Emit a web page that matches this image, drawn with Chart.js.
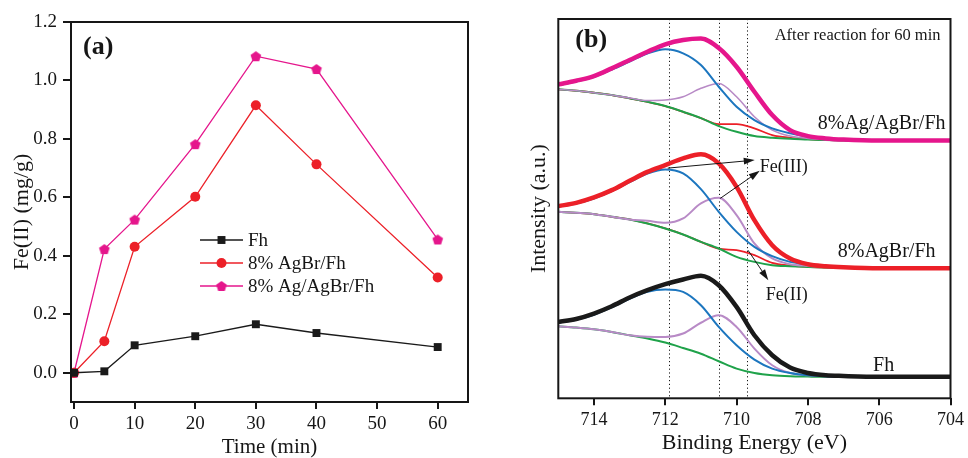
<!DOCTYPE html>
<html>
<head>
<meta charset="utf-8">
<script src="https://cdn.jsdelivr.net/npm/chart.js@4.4.1/dist/chart.umd.min.js"></script>
<style>
  html, body { margin: 0; padding: 0; background: #fff; }
  #wrap { position: relative; width: 968px; height: 458px; }
  .panel { position: absolute; top: 0; width: 484px; height: 458px; }
</style>
</head>
<body>
<div id="wrap">
  <div class="panel" style="left:0"><canvas id="chartA" width="484" height="458"></canvas></div>
  <div class="panel" style="left:484px"><canvas id="chartB" width="484" height="458"></canvas></div>
</div>
<script>
// ---- panel (a): Fe(II) vs time ----
const timeMin = [0, 5, 10, 20, 30, 40, 60];
const feFh = [0.000, 0.005, 0.094, 0.125, 0.166, 0.136, 0.088];
const feAgBr = [0.000, 0.108, 0.431, 0.602, 0.915, 0.713, 0.326];
const feAgAgBr = [0.000, 0.423, 0.524, 0.782, 1.083, 1.039, 0.456];
const timeTicks = [0, 10, 20, 30, 40, 50, 60];
const feTicks = [0.0, 0.2, 0.4, 0.6, 0.8, 1.0, 1.2];
const seriesA = ['Fh', '8% AgBr/Fh', '8% Ag/AgBr/Fh'];

// ---- panel (b): Fe 2p XPS, sampled along binding energy ----
const energy = [715, 714.5, 714, 713.5, 713, 712.5, 712, 711.5, 711, 710.5, 710, 709.5, 709, 708.5, 708, 707.5, 707, 706, 705, 704];
const energyTicks = [714, 712, 710, 708, 706, 704];
const markLines = [711.9, 710.5, 709.7];

// 8%Ag/AgBr/Fh
const agEnv = [313.7, 317.3, 322, 329.7, 338, 346.3, 353.7, 358, 359.5, 350, 331.3, 306.3, 283, 268, 262, 259.7, 258.5, 257.5, 257.5, 257.5];
const agFe3a = [313, 316.5, 321, 328.5, 336.5, 344.5, 348.7, 344.7, 333, 311.3, 291.3, 278, 269.7, 264.7, 261.3, 259.3, 258, 257.5, 257.5, 257.5];
const agFe3b = [308.7, 307.3, 305.3, 303, 300, 297.5, 298, 301.3, 309.7, 314.5, 301.3, 281.3, 268, 262, 259.7, 258.5, 257.7, 257.5, 257.5, 257.5];
const agFe2 = [308.7, 307.3, 305.3, 303, 299.7, 296.3, 292, 286.3, 280, 274, 274, 269.7, 263, 260.3, 259, 258.2, 257.7, 257.5, 257.5, 257.5];
const agBg = [308.7, 307.3, 305.3, 303, 299.7, 296.3, 292, 286.3, 280, 272, 266.3, 262, 260.3, 259.3, 258.7, 258, 257.7, 257.5, 257.5, 257.5];

// 8%AgBr/Fh
const brEnv = [192, 195.3, 200.7, 208, 217.3, 226.3, 233, 239.7, 243.8, 234.7, 211.3, 178, 153, 139.7, 134, 132, 131, 130, 130, 130];
const brFe3a = [191.5, 194.5, 199.7, 207, 216, 224.5, 228.7, 224.7, 209, 186.3, 166.3, 151.3, 142, 136.3, 133.7, 132, 131, 130, 130, 130];
const brFe3b = [186.3, 185.3, 184, 181.3, 178.7, 177.3, 175.3, 179.7, 194.7, 200.3, 183, 154.7, 139.7, 134, 132.3, 131.3, 130.7, 130, 130, 130];
const brFe2 = [186.3, 185.3, 184, 181.3, 178.7, 174.7, 169.7, 163.7, 156.3, 149.5, 148, 143, 135.3, 132.7, 131.3, 130.7, 130.3, 130, 130, 130];
const brBg = [186.3, 185.3, 184, 181.3, 178.7, 174.7, 169.7, 163.7, 156.3, 149.7, 141.3, 136.3, 133, 132, 131.3, 130.7, 130.3, 130, 130, 130];

// Fh
const fhEnv = [76.3, 79.3, 84.7, 92, 100.7, 108, 114, 118.7, 122.5, 113, 91.3, 63, 43, 30.7, 25.3, 23, 22.3, 21.5, 21.5, 21.5];
const fhFe3a = [75.5, 78.5, 83.5, 91, 99.5, 106.5, 108.7, 106.3, 93, 71.3, 53, 38.7, 29.7, 25.3, 23, 22, 21.7, 21.5, 21.5, 21.5];
const fhFe3b = [72, 70.7, 69, 66.3, 63, 61.5, 61.3, 64.7, 75.5, 83, 71.3, 49.7, 33, 25.3, 23, 22, 21.7, 21.5, 21.5, 21.5];
const fhBg = [72, 70.7, 69, 66.3, 63, 59.7, 55.7, 50.3, 44.5, 37, 29.7, 25.3, 23, 22, 21.7, 21.5, 21.5, 21.5, 21.5, 21.5];

// curve labels and arrows, in (eV, intensity)
const sampleLabels = [
  { text: '8%Ag/AgBr/Fh', x: 704.14, y: 274 },
  { text: '8%AgBr/Fh', x: 704.42, y: 146 },
  { text: 'Fh', x: 705.58, y: 33 },
];
const peakLabels = [
  { text: 'Fe(III)', x: 709.35, y: 231 },
  { text: 'Fe(II)', x: 709.18, y: 103 },
];
const arrows = [
  { from: [711.93, 230], to: [709.49, 238] },
  { from: [710.46, 199.7], to: [709.35, 227.3] },
  { from: [709.68, 148], to: [709.11, 118] },
];

const SERIF = '"Liberation Serif", "DejaVu Serif", serif';
const INK = '#161616';
const C_FH = '#1a1a1a';
const C_RED = '#ec2028';
const C_MAG = '#e5168c';
const C_BLUE = '#1c76bf';
const C_PURP = '#b88ac6';
const C_GREEN = '#1fa24a';

function pentagon(r, color) {
  const c = document.createElement('canvas');
  const s = Math.ceil(r * 2 + 2);
  c.width = s; c.height = s;
  const g = c.getContext('2d');
  g.fillStyle = color;
  g.beginPath();
  for (let i = 0; i < 5; i++) {
    const a = -Math.PI / 2 + i * 2 * Math.PI / 5;
    const px = s / 2 + r * Math.cos(a);
    const py = s / 2 + 0.5 + r * Math.sin(a);
    if (i) g.lineTo(px, py); else g.moveTo(px, py);
  }
  g.closePath();
  g.fill();
  return c;
}
const penta = pentagon(5.6, C_MAG);

const pts = (xs, ys) => xs.map((x, i) => ({ x, y: ys[i] }));
const fixTicks = (vals) => (scale) => { scale.ticks = vals.map((v) => ({ value: v })); };

// frame + legend + "(a)"
const decoA = {
  id: 'decoA',
  afterDraw(chart) {
    const { ctx, chartArea: a } = chart;
    ctx.save();
    ctx.strokeStyle = INK;
    ctx.lineWidth = 2;
    ctx.strokeRect(a.left, a.top, a.right - a.left, a.bottom - a.top);

    ctx.fillStyle = INK;
    ctx.textBaseline = 'middle';
    ctx.font = 'bold 26px ' + SERIF;
    ctx.fillText('(a)', a.left + 12, a.top + 25);

    // legend
    const x0 = a.left + 129, x1 = a.left + 172, xm = (x0 + x1) / 2;
    chart.data.datasets.forEach((ds, i) => {
      const y = a.top + 218 + i * 23;
      ctx.strokeStyle = ds.borderColor;
      ctx.lineWidth = 1.3;
      ctx.beginPath(); ctx.moveTo(x0, y); ctx.lineTo(x1, y); ctx.stroke();
      ctx.fillStyle = ds.backgroundColor;
      Chart.helpers.drawPoint(ctx, { pointStyle: ds.pointStyle, radius: ds.pointRadius, borderWidth: 0, rotation: 0 }, xm, y);
      ctx.fillStyle = INK;
      ctx.font = '19px ' + SERIF;
      ctx.textBaseline = 'middle';
      ctx.textAlign = 'left';
      ctx.fillText(ds.label, x1 + 5, y + 1);
    });
    ctx.restore();
  },
};

new Chart(document.getElementById('chartA'), {
  type: 'line',
  data: {
    datasets: [
      { label: seriesA[0], data: pts(timeMin, feFh), borderColor: C_FH, backgroundColor: C_FH, pointStyle: 'rect', pointRadius: 5.6 },
      { label: seriesA[1], data: pts(timeMin, feAgBr), borderColor: C_RED, backgroundColor: C_RED, pointStyle: 'circle', pointRadius: 5 },
      { label: seriesA[2], data: pts(timeMin, feAgAgBr), borderColor: C_MAG, backgroundColor: C_MAG, pointStyle: penta, pointRadius: 5.6 },
    ],
  },
  options: {
    responsive: false,
    animation: false,
    events: [],
    layout: { padding: { top: 22, right: 16, left: 0, bottom: 0 } },
    elements: { line: { borderWidth: 1.3, tension: 0 }, point: { borderWidth: 0 } },
    plugins: { legend: { display: false }, tooltip: { enabled: false } },
    scales: {
      x: {
        type: 'linear', min: -0.5, max: 65,
        afterBuildTicks: fixTicks(timeTicks),
        afterFit: (s) => { s.height = 56; },
        border: { display: false },
        grid: { drawOnChartArea: false, drawTicks: true, tickLength: 7, color: INK, lineWidth: 2 },
        ticks: { color: INK, font: { family: SERIF, size: 19 }, padding: 4, maxRotation: 0 },
        title: { display: true, text: 'Time (min)', color: INK, font: { family: SERIF, size: 21, lineHeight: 1 }, padding: { top: 0, bottom: 0 } },
      },
      y: {
        min: -0.1, max: 1.2,
        afterBuildTicks: fixTicks(feTicks),
        afterFit: (s) => { s.width = 71; },
        border: { display: false },
        grid: { drawOnChartArea: false, drawTicks: true, tickLength: 8, color: INK, lineWidth: 2 },
        ticks: { color: INK, font: { family: SERIF, size: 19 }, padding: 6, callback: (v) => v.toFixed(1) },
        title: { display: true, text: 'Fe(II) (mg/g)', color: INK, font: { family: SERIF, size: 22, lineHeight: 1 }, padding: { top: 11, bottom: 0 } },
      },
    },
  },
  plugins: [decoA],
});

// frame, dotted guides, labels and arrows for (b)
function arrow(ctx, x0, y0, x1, y1) {
  const ang = Math.atan2(y1 - y0, x1 - x0);
  const L = 11, W = 3.5;
  ctx.beginPath(); ctx.moveTo(x0, y0); ctx.lineTo(x1 - L * 0.6 * Math.cos(ang), y1 - L * 0.6 * Math.sin(ang)); ctx.stroke();
  ctx.beginPath();
  ctx.moveTo(x1, y1);
  ctx.lineTo(x1 - L * Math.cos(ang) + W * Math.sin(ang), y1 - L * Math.sin(ang) - W * Math.cos(ang));
  ctx.lineTo(x1 - L * Math.cos(ang) - W * Math.sin(ang), y1 - L * Math.sin(ang) + W * Math.cos(ang));
  ctx.closePath(); ctx.fill();
}

const decoB = {
  id: 'decoB',
  beforeDatasetsDraw(chart) {
    const { ctx, chartArea: a, scales: { x } } = chart;
    ctx.save();
    ctx.strokeStyle = INK;
    ctx.lineWidth = 1;
    ctx.setLineDash([1.2, 2.6]);
    markLines.forEach((e) => {
      const px = Math.round(x.getPixelForValue(e)) + 0.5;
      ctx.beginPath(); ctx.moveTo(px, a.top); ctx.lineTo(px, a.bottom); ctx.stroke();
    });
    ctx.restore();
  },
  afterDraw(chart) {
    const { ctx, chartArea: a, scales: { x, y } } = chart;
    ctx.save();
    ctx.strokeStyle = INK;
    ctx.fillStyle = INK;
    ctx.lineWidth = 2;
    ctx.strokeRect(a.left, a.top, a.right - a.left, a.bottom - a.top);

    ctx.textBaseline = 'middle';
    ctx.font = 'bold 26px ' + SERIF;
    ctx.fillText('(b)', a.left + 17, a.top + 21);

    ctx.font = '16.5px ' + SERIF;
    ctx.textAlign = 'right';
    ctx.fillText('After reaction for 60 min', a.right - 10, a.top + 17);

    ctx.font = '20px ' + SERIF;
    sampleLabels.forEach((l) => ctx.fillText(l.text, x.getPixelForValue(l.x), y.getPixelForValue(l.y)));

    ctx.textAlign = 'left';
    ctx.font = '18px ' + SERIF;
    peakLabels.forEach((l) => ctx.fillText(l.text, x.getPixelForValue(l.x), y.getPixelForValue(l.y)));

    ctx.lineWidth = 1;
    arrows.forEach((r) => arrow(ctx,
      x.getPixelForValue(r.from[0]), y.getPixelForValue(r.from[1]),
      x.getPixelForValue(r.to[0]), y.getPixelForValue(r.to[1])));
    ctx.restore();
  },
};

const curve = (ys, color, width, order) => ({
  data: pts(energy, ys), borderColor: color, borderWidth: width, order,
  pointRadius: 0, cubicInterpolationMode: 'monotone', fill: false,
});

// higher order is painted first; green sits over the Fe(II) red where they coincide
new Chart(document.getElementById('chartB'), {
  type: 'line',
  data: {
    datasets: [
      curve(agFe2, C_RED, 1.8, 5), curve(agBg, C_GREEN, 2, 4), curve(agFe3b, C_PURP, 1.6, 3), curve(agFe3a, C_BLUE, 2, 2), curve(agEnv, C_MAG, 4.5, 1),
      curve(brFe2, C_RED, 1.8, 5), curve(brBg, C_GREEN, 2, 4), curve(brFe3b, C_PURP, 2, 3), curve(brFe3a, C_BLUE, 2, 2), curve(brEnv, C_RED, 4.5, 1),
      curve(fhBg, C_GREEN, 2, 4), curve(fhFe3b, C_PURP, 2, 3), curve(fhFe3a, C_BLUE, 2, 2), curve(fhEnv, C_FH, 4.5, 1),
    ],
  },
  options: {
    responsive: false,
    animation: false,
    events: [],
    layout: { padding: { top: 19, right: 13.7, left: 0, bottom: 0 } },
    plugins: { legend: { display: false }, tooltip: { enabled: false } },
    scales: {
      x: {
        type: 'linear', min: 704, max: 715, reverse: true,
        afterBuildTicks: fixTicks(energyTicks),
        afterFit: (s) => { s.height = 59.7; },
        border: { display: false },
        grid: { drawOnChartArea: false, drawTicks: true, tickLength: 7, color: INK, lineWidth: 2 },
        ticks: { color: INK, font: { family: SERIF, size: 18 }, padding: 4, maxRotation: 0 },
        title: { display: true, text: 'Binding Energy (eV)', color: INK, font: { family: SERIF, size: 22, lineHeight: 1 }, padding: { top: 0, bottom: 4 } },
      },
      y: {
        min: 0, max: 379,
        afterFit: (s) => { s.width = 74.3; },
        border: { display: false },
        grid: { display: false },
        ticks: { display: false },
        title: { display: true, text: 'Intensity (a.u.)', color: INK, font: { family: SERIF, size: 22, lineHeight: 1 }, padding: { top: 44, bottom: 0 } },
      },
    },
  },
  plugins: [decoB],
});
</script>
</body>
</html>
